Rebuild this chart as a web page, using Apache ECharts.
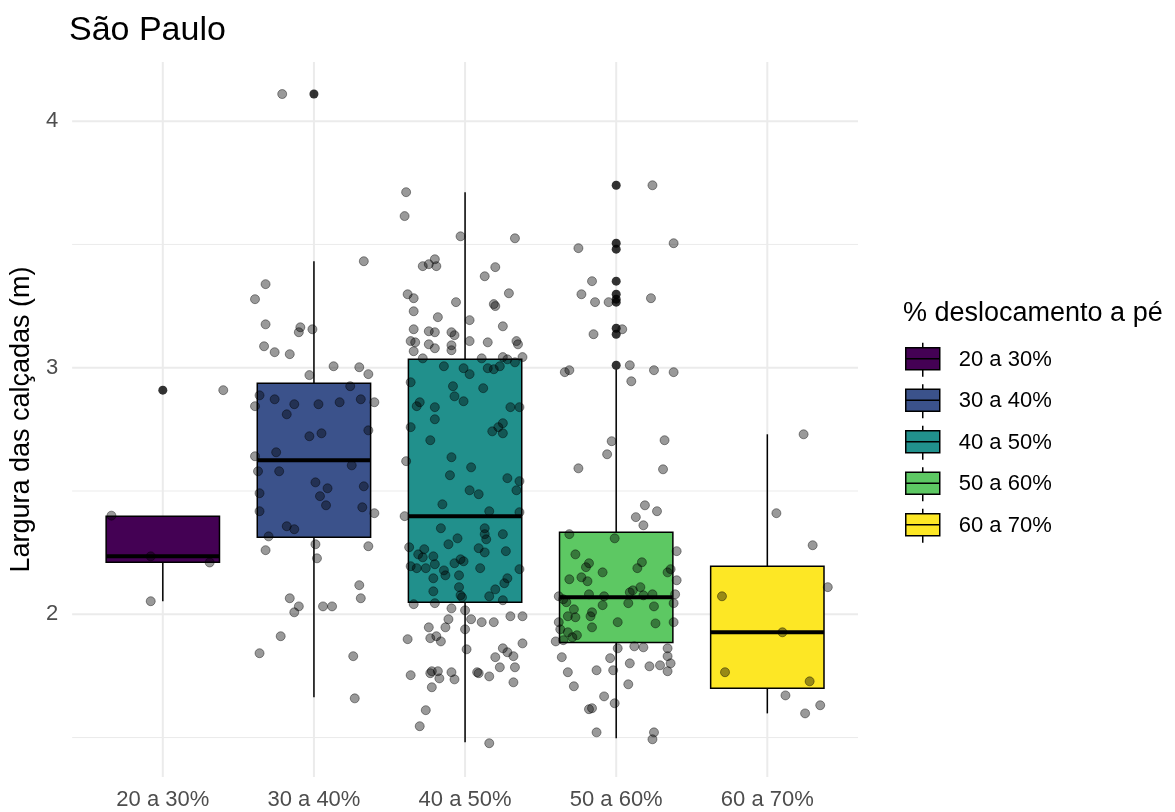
<!DOCTYPE html>
<html>
<head>
<meta charset="utf-8">
<title>São Paulo</title>
<script src="https://cdn.jsdelivr.net/npm/echarts@6/dist/echarts.min.js"></script>
<style>
html, body { margin: 0; padding: 0; background: #fff; }
#main { width: 1175px; height: 812px; }
</style>
</head>
<body>
<div id="main"></div>
<script>
var categories = ['20 a 30%', '30 a 40%', '40 a 50%', '50 a 60%', '60 a 70%'];
var colors = ['#440154', '#3B528B', '#21908C', '#5DC863', '#FDE725'];

// [whisker low, Q1, median, Q3, whisker high]
var boxStats = [
  [2.053, 2.211, 2.235, 2.398, 2.398],
  [1.663, 2.312, 2.625, 2.937, 3.432],
  [1.481, 2.049, 2.398, 3.034, 3.712],
  [1.497, 1.886, 2.069, 2.333, 2.994],
  [1.598, 1.700, 1.927, 2.195, 2.730]
];

var outliers = [
  [2.909],
  [4.11],
  [],
  [3.740, 3.505, 3.481, 3.351, 3.298, 3.278, 3.266, 3.160, 3.136, 3.010],
  []
];

// jittered points: [horizontal jitter, largura]
var pts20 = [[-0.34, 2.40], [-0.08, 2.235], [0.31, 2.21], [-0.08, 2.053], [0.40, 2.909]];

var pts30 = [
  [-0.21, 4.11], [0.33, 3.432], [-0.32, 3.339], [-0.39, 3.278], [-0.32, 3.176], [-0.09, 3.164],
  [-0.10, 3.144], [-0.01, 3.156], [-0.33, 3.087], [-0.26, 3.063], [-0.16, 3.055], [0.13, 3.006],
  [0.30, 3.002], [0.36, 2.974], [-0.03, 2.970], [0.24, 2.925], [-0.36, 2.888], [-0.26, 2.872],
  [-0.13, 2.852], [0.03, 2.852], [0.17, 2.860], [0.31, 2.872], [0.40, 2.860], [-0.39, 2.844],
  [-0.18, 2.811], [-0.03, 2.722], [0.05, 2.734], [0.36, 2.746], [-0.25, 2.657], [-0.39, 2.641],
  [0.25, 2.604], [-0.37, 2.580], [-0.23, 2.580], [0.01, 2.535], [0.09, 2.511], [0.04, 2.479],
  [0.08, 2.442], [0.33, 2.519], [-0.36, 2.491], [-0.36, 2.418], [0.32, 2.434], [0.40, 2.410],
  [-0.18, 2.357], [-0.13, 2.345], [-0.30, 2.316], [0.01, 2.284], [-0.32, 2.260], [0.36, 2.276],
  [0.02, 2.227], [0.30, 2.118], [0.31, 2.065], [-0.16, 2.065], [-0.10, 2.032], [-0.13, 2.008],
  [0.06, 2.032], [0.12, 2.032], [-0.22, 1.911], [-0.36, 1.842], [0.26, 1.830], [0.27, 1.659]
];

var pts40 = [
  [-0.39, 3.712], [-0.40, 3.615], [-0.03, 3.533], [0.33, 3.525], [-0.20, 3.440], [-0.28, 3.412],
  [-0.24, 3.420], [-0.19, 3.412], [0.20, 3.408], [0.13, 3.371], [-0.38, 3.298], [-0.34, 3.282],
  [0.29, 3.302], [-0.06, 3.266], [0.19, 3.258], [0.20, 3.250], [-0.34, 3.229], [-0.18, 3.205],
  [0.03, 3.193], [0.25, 3.168], [-0.34, 3.156], [-0.24, 3.148], [-0.20, 3.144], [-0.09, 3.144],
  [-0.07, 3.132], [-0.36, 3.108], [-0.33, 3.103], [-0.24, 3.095], [-0.20, 3.079], [-0.09, 3.091],
  [-0.09, 3.071], [0.03, 3.108], [0.15, 3.103], [0.34, 3.108], [0.35, 3.095], [-0.34, 3.067],
  [-0.28, 3.038], [0.11, 3.038], [0.25, 3.043], [0.28, 3.034], [0.33, 3.022], [0.38, 3.043],
  [-0.14, 3.006], [-0.01, 2.998], [0.03, 2.974], [0.15, 2.998], [0.19, 2.994], [0.23, 3.006],
  [-0.36, 2.941], [-0.08, 2.925], [0.12, 2.917], [-0.07, 2.884], [-0.01, 2.864], [-0.30, 2.860],
  [-0.32, 2.844], [-0.20, 2.840], [0.30, 2.840], [0.36, 2.840], [-0.20, 2.791], [-0.36, 2.759],
  [0.25, 2.775], [0.22, 2.759], [0.18, 2.742], [0.25, 2.734], [-0.23, 2.706], [-0.39, 2.621],
  [-0.09, 2.637], [0.04, 2.596],
  [-0.10, 2.564], [0.28, 2.552], [0.36, 2.540], [0.03, 2.503], [0.09, 2.487], [0.34, 2.503],
  [-0.15, 2.446], [0.16, 2.418], [0.36, 2.414], [-0.40, 2.398], [-0.16, 2.349], [0.13, 2.349],
  [0.13, 2.325], [0.14, 2.304], [0.25, 2.325], [-0.05, 2.308], [-0.11, 2.284], [-0.37, 2.272],
  [-0.27, 2.264], [-0.31, 2.243], [-0.28, 2.231], [-0.21, 2.235], [0.09, 2.268], [0.13, 2.251],
  [0.27, 2.256], [-0.03, 2.223], [-0.01, 2.215], [-0.07, 2.207], [-0.20, 2.203], [-0.36, 2.195],
  [-0.32, 2.187], [-0.26, 2.187], [0.36, 2.183], [0.10, 2.187], [-0.14, 2.178], [-0.13, 2.158],
  [-0.04, 2.158], [-0.21, 2.146], [0.28, 2.146], [0.26, 2.126], [0.20, 2.101], [-0.04, 2.110],
  [-0.21, 2.093], [-0.03, 2.077], [-0.02, 2.069], [0.16, 2.073], [0.25, 2.057], [-0.34, 2.041],
  [-0.20, 2.045], [-0.09, 2.024], [0.00, 2.016], [-0.11, 1.980], [0.04, 1.980], [0.11, 1.968],
  [0.19, 1.968], [0.30, 1.992], [0.38, 1.992], [-0.24, 1.947], [-0.13, 1.947], [0.00, 1.939],
  [-0.38, 1.899], [-0.23, 1.903], [-0.19, 1.911], [-0.16, 1.890], [0.38, 1.882], [0.01, 1.858],
  [0.25, 1.862], [0.28, 1.846], [0.20, 1.826], [0.32, 1.830], [0.23, 1.785], [0.33, 1.785],
  [-0.36, 1.753], [-0.23, 1.761], [-0.22, 1.769], [-0.18, 1.769], [-0.09, 1.765], [0.08, 1.765],
  [0.09, 1.761], [-0.17, 1.740], [-0.07, 1.736], [0.16, 1.748], [0.32, 1.724], [-0.22, 1.704],
  [-0.26, 1.611], [-0.30, 1.546], [0.16, 1.477]
];

var pts50 = [
  [0.24, 3.740], [0.38, 3.505], [-0.25, 3.485], [-0.16, 3.351], [-0.23, 3.298], [-0.14, 3.266],
  [-0.05, 3.266], [0.23, 3.282], [0.04, 3.156], [-0.15, 3.136], [0.09, 3.010], [-0.34, 2.982],
  [-0.31, 2.990], [0.25, 2.990], [0.38, 2.982], [0.10, 2.945], [-0.03, 2.702], [0.32, 2.706],
  [-0.06, 2.649], [-0.25, 2.592], [0.31, 2.588],
  [0.19, 2.442], [0.27, 2.418], [0.13, 2.394], [0.18, 2.361], [-0.31, 2.325], [-0.01, 2.308],
  [0.40, 2.256], [-0.27, 2.243], [-0.18, 2.207], [-0.20, 2.191], [0.17, 2.211], [0.14, 2.187],
  [0.36, 2.183], [0.34, 2.170], [-0.09, 2.170], [-0.31, 2.142], [-0.23, 2.150], [-0.19, 2.134],
  [0.40, 2.138], [0.16, 2.110], [0.11, 2.097], [0.09, 2.089], [-0.18, 2.081], [-0.08, 2.073],
  [0.18, 2.077], [0.24, 2.081], [0.39, 2.081], [-0.38, 2.073], [-0.35, 2.061], [-0.33, 2.049],
  [-0.09, 2.037], [0.08, 2.045], [0.38, 2.045], [0.25, 2.032], [-0.28, 2.020], [-0.32, 1.992],
  [-0.27, 1.988], [-0.16, 2.008], [-0.17, 1.992], [0.01, 1.968], [0.26, 1.963], [0.38, 1.968],
  [-0.38, 1.968], [-0.16, 1.947], [-0.37, 1.939], [-0.32, 1.927], [-0.26, 1.915], [-0.29, 1.907],
  [-0.35, 1.895], [-0.40, 1.890], [0.01, 1.862], [0.12, 1.870], [0.18, 1.866], [0.34, 1.862],
  [0.34, 1.830], [-0.36, 1.826], [-0.04, 1.822], [0.09, 1.801], [0.22, 1.789], [0.29, 1.793],
  [0.36, 1.801], [0.34, 1.769], [-0.13, 1.773], [-0.02, 1.773], [-0.32, 1.765], [0.08, 1.716],
  [-0.28, 1.708], [-0.08, 1.667], [-0.01, 1.639], [-0.18, 1.615], [-0.16, 1.619], [-0.13, 1.521],
  [0.25, 1.521], [0.24, 1.493]
];

var pts60 = [
  [0.24, 2.730], [0.06, 2.410], [0.30, 2.280], [0.40, 2.110], [-0.30, 2.073], [0.10, 1.927],
  [-0.28, 1.765], [0.28, 1.728], [0.12, 1.671], [0.35, 1.631], [0.25, 1.598]
];

var jitterGroups = [pts20, pts30, pts40, pts50, pts60];
var yMajor = [2, 3, 4];
var yMinor = [1.5, 2.5, 3.5];

var xMin = 0.4, xMax = 5.6, yMin = 1.34, yMax = 4.24;
var font = 'Liberation Sans, Arial, sans-serif';

var chart = echarts.init(document.getElementById('main'));

function gridLine(vertical, width) {
  return function (params, api) {
    var p1, p2;
    if (vertical) {
      p1 = api.coord([api.value(0), yMin]);
      p2 = api.coord([api.value(0), yMax]);
    } else {
      p1 = api.coord([xMin, api.value(1)]);
      p2 = api.coord([xMax, api.value(1)]);
    }
    return {
      type: 'line',
      shape: { x1: p1[0], y1: p1[1], x2: p2[0], y2: p2[1] },
      style: { stroke: '#EBEBEB', lineWidth: width }
    };
  };
}

function renderBox(params, api) {
  var x = api.value(0);
  var lw = api.value(1), q1 = api.value(2), md = api.value(3), q3 = api.value(4), uw = api.value(5);
  var half = 0.375;
  var tl = api.coord([x - half, q3]);
  var br = api.coord([x + half, q1]);
  var m = api.coord([x, md]);
  var top = api.coord([x, uw]);
  var bot = api.coord([x, lw]);
  var line = { stroke: '#000', lineWidth: 1.5 };
  return {
    type: 'group',
    children: [
      { type: 'line', shape: { x1: top[0], y1: top[1], x2: top[0], y2: tl[1] }, style: line },
      { type: 'line', shape: { x1: bot[0], y1: br[1], x2: bot[0], y2: bot[1] }, style: line },
      {
        type: 'rect',
        shape: { x: tl[0], y: tl[1], width: br[0] - tl[0], height: br[1] - tl[1] },
        style: { fill: api.visual('color'), stroke: '#000', lineWidth: 1.5 }
      },
      { type: 'line', shape: { x1: tl[0], y1: m[1], x2: br[0], y2: m[1] }, style: { stroke: '#000', lineWidth: 4 } }
    ]
  };
}

var series = [];

series.push({
  type: 'custom', name: 'vgrid', z: 1, silent: true,
  renderItem: gridLine(true, 2),
  data: categories.map(function (c, i) { return [i + 1, 2]; })
});
series.push({
  type: 'custom', name: 'hgrid-minor', z: 1, silent: true,
  renderItem: gridLine(false, 1),
  data: yMinor.map(function (v) { return [1, v]; })
});
series.push({
  type: 'custom', name: 'hgrid-major', z: 1, silent: true,
  renderItem: gridLine(false, 2),
  data: yMajor.map(function (v) { return [1, v]; })
});

categories.forEach(function (c, i) {
  series.push({
    type: 'custom',
    name: c,
    z: 2,
    itemStyle: { color: colors[i] },
    renderItem: renderBox,
    encode: { x: 0, y: [1, 2, 3, 4, 5] },
    data: [[i + 1].concat(boxStats[i])]
  });
});

var outlierData = [];
outliers.forEach(function (arr, i) {
  arr.forEach(function (v) { outlierData.push([i + 1, v]); });
});
series.push({
  type: 'scatter', name: 'outliers', z: 3,
  symbolSize: 9,
  itemStyle: { color: '#000' },
  data: outlierData
});

var jitterData = [];
jitterGroups.forEach(function (arr, i) {
  arr.forEach(function (p) { jitterData.push([i + 1 + p[0], p[1]]); });
});
series.push({
  type: 'scatter', name: 'pontos', z: 4,
  symbolSize: 9,
  itemStyle: { color: 'rgba(0,0,0,0.5)', borderColor: 'rgba(0,0,0,0.5)', borderWidth: 1 },
  data: jitterData
});

chart.setOption({
  animation: false,
  backgroundColor: '#fff',
  textStyle: { fontFamily: font },
  title: [
    {
      text: 'São Paulo', left: 69, top: 14, padding: 0,
      textStyle: { fontFamily: font, fontSize: 34, fontWeight: 'normal', color: '#000' }
    },
    {
      text: '% deslocamento a pé', left: 903, top: 300, padding: 0,
      textStyle: { fontFamily: font, fontSize: 27, fontWeight: 'normal', color: '#000' }
    }
  ],
  legend: {
    data: categories,
    orient: 'vertical',
    left: 905, top: 342, padding: 0,
    itemWidth: 34, itemHeight: 34, itemGap: 6,
    selectedMode: false,
    icon: 'path://M17,0L17,5M0,5L34,5L34,27L0,27ZM0,16L34,16M17,27L17,34',
    itemStyle: { borderColor: '#000', borderWidth: 1.5 },
    textStyle: { fontFamily: font, fontSize: 22, color: '#000', padding: [0, 0, 0, 14] }
  },
  grid: { left: 69, right: 317, top: 62, bottom: 35 },
  xAxis: {
    type: 'value', min: xMin, max: xMax,
    axisLine: { show: false }, axisTick: { show: false }, splitLine: { show: false },
    axisLabel: {
      customValues: [1, 2, 3, 4, 5],
      margin: 12, fontSize: 22, color: '#4D4D4D', fontFamily: font,
      formatter: function (v) { return categories[Math.round(v) - 1] || ''; }
    }
  },
  yAxis: {
    type: 'value', min: yMin, max: yMax,
    name: 'Largura das calçadas (m)',
    nameLocation: 'middle', nameGap: 29,
    nameTextStyle: { fontFamily: font, fontSize: 27, color: '#000' },
    axisLine: { show: false }, axisTick: { show: false }, splitLine: { show: false },
    axisLabel: {
      customValues: yMajor,
      margin: 14, fontSize: 22, color: '#4D4D4D', fontFamily: font,
      formatter: function (v) { return String(v); }
    }
  },
  series: series
});

window.addEventListener('resize', chart.resize);
</script>
</body>
</html>
